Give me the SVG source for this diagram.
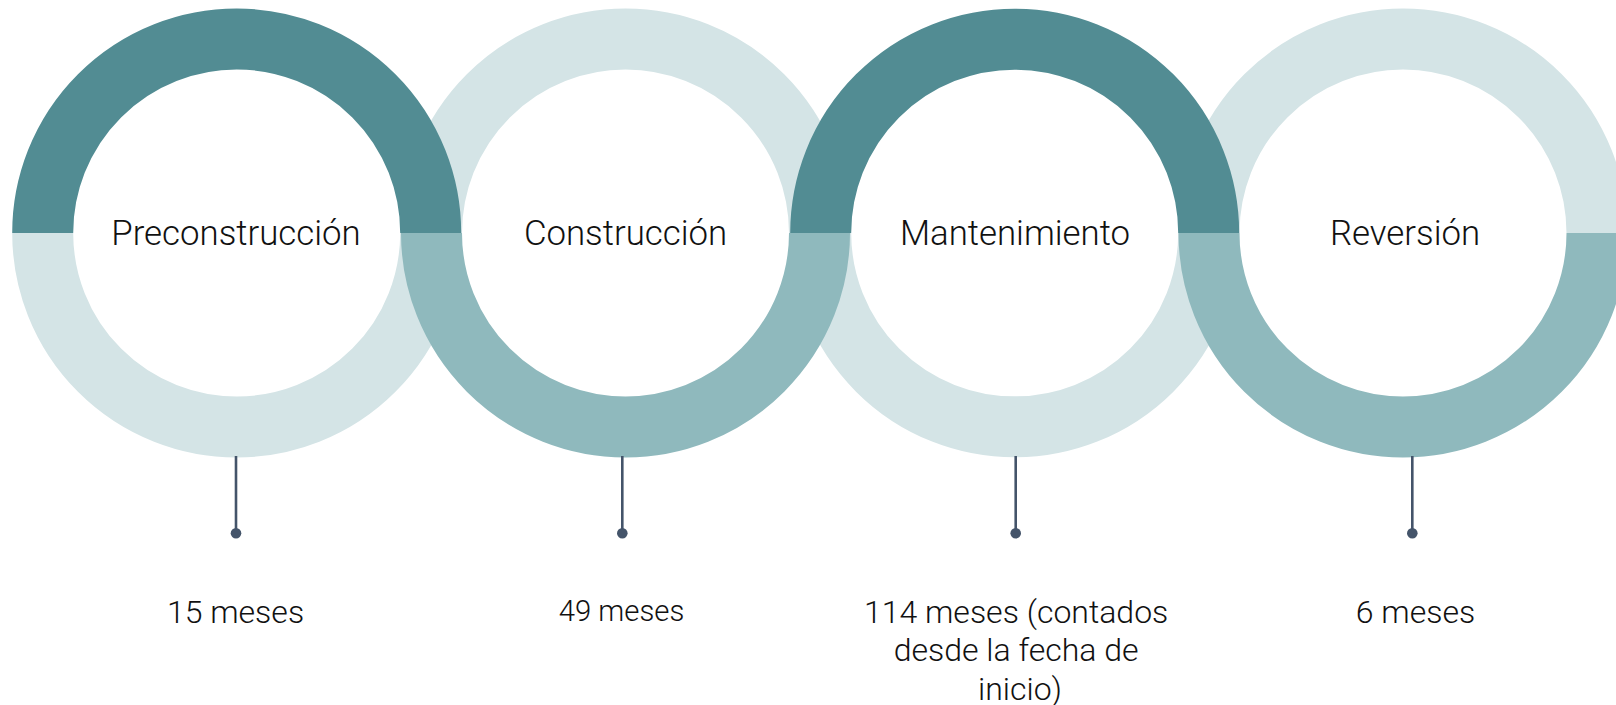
<svg xmlns="http://www.w3.org/2000/svg" width="1616" height="705" viewBox="0 0 1616 705">
  <style>
    .ring { fill: none; stroke-width: 61; stroke-linecap: butt; }
    .dark { stroke: #528c93; }
    .mid { stroke: #8fb9bd; }
    .light { stroke: #d4e4e6; }
    .title { font-family: Roboto, "Liberation Sans", sans-serif; font-weight: 300; font-size: 34.8px; fill: #111111; text-anchor: middle; }
    .dur { font-family: Roboto, "Liberation Sans", sans-serif; font-weight: 300; font-size: 32px; fill: #111111; text-anchor: middle; }
    .stem { stroke: #44546a; stroke-width: 2.6; }
    .dot { fill: #44546a; }
  </style>
  <rect width="1616" height="705" fill="#ffffff"/>

  <!-- ring halves layered: light, then mid, then dark -->
  <g id="rings">
    <path class="ring light" d="M 1208.7 233 A 194 194 0 0 1 820.7 233"/>
    <path class="ring light" d="M 430.7 233 A 194 194 0 0 1 42.7 233"/>
    <path class="ring light" d="M 431.5 233 A 194 194 0 0 1 819.5 233"/>
    <path class="ring light" d="M 1209 233 A 194 194 0 0 1 1597 233"/>
    <path class="ring mid" d="M 819.5 233 A 194 194 0 0 1 431.5 233"/>
    <path class="ring mid" d="M 1597 233 A 194 194 0 0 1 1209 233"/>
    <path class="ring dark" d="M 42.7 233 A 194 194 0 0 1 430.7 233"/>
    <path class="ring dark" d="M 820.7 233 A 194 194 0 0 1 1208.7 233"/>
  </g>

  <g id="connectors">
    <line class="stem" x1="236" y1="456" x2="236" y2="533"/>
    <circle class="dot" cx="236" cy="533.3" r="5.3"/>
    <line class="stem" x1="622.3" y1="456" x2="622.3" y2="533"/>
    <circle class="dot" cx="622.3" cy="533.3" r="5.3"/>
    <line class="stem" x1="1015.7" y1="456" x2="1015.7" y2="533"/>
    <circle class="dot" cx="1015.7" cy="533.3" r="5.3"/>
    <line class="stem" x1="1412.3" y1="456" x2="1412.3" y2="533"/>
    <circle class="dot" cx="1412.3" cy="533.3" r="5.3"/>
  </g>

  <g id="node-preconstruccion">
    <text class="title" x="236" y="245">Preconstrucción</text>
    <text class="dur" x="235.5" y="622.7">15 meses</text>
  </g>
  <g id="node-construccion">
    <text class="title" x="625.5" y="245">Construcción</text>
    <text class="dur" x="621.5" y="621" style="font-size:29.3px">49 meses</text>
  </g>
  <g id="node-mantenimiento">
    <text class="title" x="1015" y="245">Mantenimiento</text>
    <text class="dur" x="1020" y="623">
      <tspan x="1020" y="623">114 meses (contados</tspan>
      <tspan x="1020" y="661.3">desde la fecha de</tspan>
      <tspan x="1020" y="699.6">inicio)</tspan>
    </text>
  </g>
  <g id="node-reversion">
    <text class="title" x="1405" y="245">Reversión</text>
    <text class="dur" x="1415.5" y="622.7">6 meses</text>
  </g>
</svg>
